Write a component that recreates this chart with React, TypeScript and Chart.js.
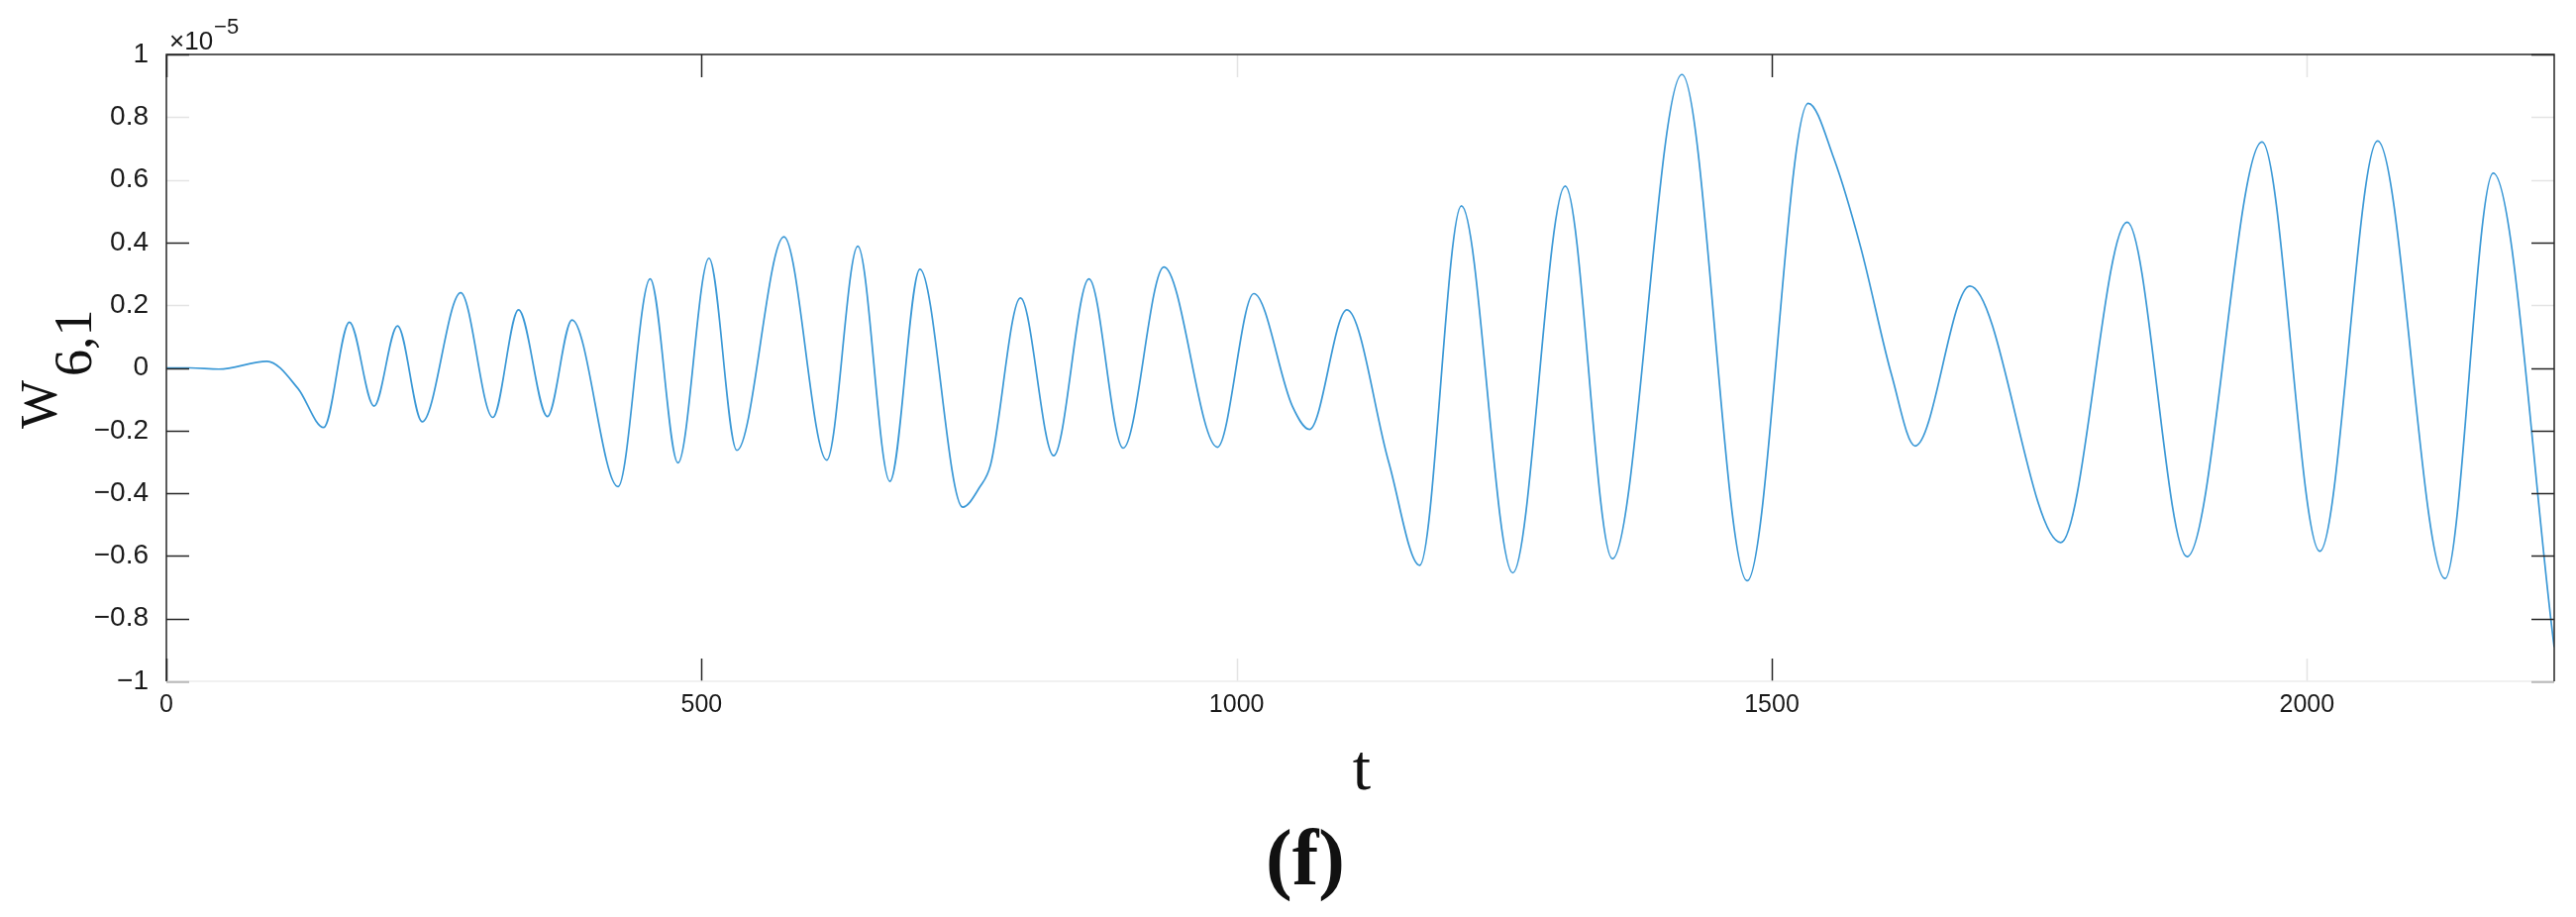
import { useEffect, useRef } from "react";
import { Chart, registerables } from "chart.js";

Chart.register(...registerables);

// time axis values (t)
const tValues = [
  0, 22, 49, 94, 123, 147, 171, 194, 216, 239, 275, 305, 329, 356, 379, 422,
  452, 478, 507, 533, 577, 617, 646, 676, 704, 744, 760, 770, 798,
  829, 862, 894, 932, 982, 1016, 1052, 1068, 1103, 1142, 1171, 1210, 1258,
  1307, 1351, 1416, 1477, 1534, 1558, 1583, 1612, 1634, 1685, 1770, 1832,
  1888, 1958, 2012, 2066, 2129, 2174, 2231,
];

// W_{6,1} values in units of 1e-5
const wValues = [
  0, 0, -0.004, 0.021, -0.066, -0.19, 0.146, -0.122, 0.134, -0.172, 0.24,
  -0.158, 0.185, -0.155, 0.153, -0.379, 0.284, -0.303, 0.35, -0.263,
  0.418, -0.294, 0.388, -0.362, 0.315, -0.444, -0.38, -0.31, 0.223,
  -0.28, 0.284, -0.256, 0.322, -0.253, 0.237, -0.122, -0.196, 0.185, -0.3,
  -0.63, 0.517, -0.654, 0.58, -0.609, 0.936, -0.679, 0.844, 0.668, 0.385,
  -0.024, -0.249, 0.261, -0.557, 0.465, -0.602, 0.721, -0.585, 0.724, -0.672,
  0.621, -0.891,
];

const xTicks = [0, 500, 1000, 1500, 2000];
const yTicks = [-1, -0.8, -0.6, -0.4, -0.2, 0, 0.2, 0.4, 0.6, 0.8, 1];
const xFaintTicks = [1000, 2000];
const yFaintTicks = [0.2, 0.6, 0.8];
const xMin = 0;
const xMax = 2231;
const yMin = -1;
const yMax = 1;

const yTitleMain = "W";
const yTitleSub = "6,1";
const xTitle = "t";
const panelLabel = "(f)";
const exponentBase = "\u00d710";
const exponentPower = "\u22125";

const fmtY = (v: number) => {
  if (Math.abs(v) < 1e-9) return "0";
  const s = Number(Math.abs(v).toFixed(1)).toString();
  return (v < 0 ? "\u2212" : "") + s;
};

const framePlugin = {
  id: "matlabFrame",
  afterDraw(chart: any) {
    const ctx = chart.ctx as CanvasRenderingContext2D;
    const { left, right, top, bottom } = chart.chartArea;
    const xs = chart.scales.x;
    const ys = chart.scales.y;
    const dark = "#262626";
    const faint = "#e4e4e4";
    const tl = 23;
    ctx.save();
    ctx.lineWidth = 1.5;
    // ticks
    for (const v of yTicks) {
      const py = Math.round(ys.getPixelForValue(v)) + 0.5;
      ctx.strokeStyle = yFaintTicks.includes(v) ? faint : dark;
      ctx.beginPath();
      ctx.moveTo(left, py);
      ctx.lineTo(left + tl, py);
      ctx.moveTo(right, py);
      ctx.lineTo(right - tl, py);
      ctx.stroke();
    }
    for (const v of xTicks) {
      const px = Math.round(xs.getPixelForValue(v)) + 0.5;
      ctx.strokeStyle = xFaintTicks.includes(v) ? faint : dark;
      ctx.beginPath();
      ctx.moveTo(px, bottom);
      ctx.lineTo(px, bottom - tl);
      ctx.moveTo(px, top);
      ctx.lineTo(px, top + tl);
      ctx.stroke();
    }
    // box
    ctx.strokeStyle = "#ececec";
    ctx.beginPath();
    ctx.moveTo(left, bottom);
    ctx.lineTo(right, bottom);
    ctx.stroke();
    ctx.strokeStyle = dark;
    ctx.beginPath();
    ctx.moveTo(left, bottom);
    ctx.lineTo(left, top);
    ctx.lineTo(right, top);
    ctx.lineTo(right, bottom);
    ctx.stroke();

    // exponent
    ctx.fillStyle = "#1a1a1a";
    ctx.textAlign = "left";
    ctx.textBaseline = "alphabetic";
    ctx.font = "26px 'Liberation Sans', Arial, sans-serif";
    ctx.fillText(exponentBase, left + 3, top - 5);
    const w = ctx.measureText(exponentBase).width;
    ctx.font = "22px 'Liberation Sans', Arial, sans-serif";
    ctx.fillText(exponentPower, left + 3 + w + 1, top - 21);

    // y title
    ctx.fillStyle = "#111";
    ctx.save();
    ctx.translate(57, 433);
    ctx.rotate(-Math.PI / 2);
    ctx.font = "52px 'Liberation Serif', 'Times New Roman', serif";
    ctx.fillText(yTitleMain, 0, 0);
    const ww = ctx.measureText(yTitleMain).width;
    ctx.font = "54px 'Liberation Serif', 'Times New Roman', serif";
    ctx.fillText(yTitleSub, ww + 4, 35);
    ctx.restore();

    // x title
    ctx.textAlign = "center";
    ctx.font = "66px 'Liberation Serif', 'Times New Roman', serif";
    ctx.fillText(xTitle, 1375, 797);

    // panel label
    ctx.font = "bold 80px 'Liberation Serif', 'Times New Roman', serif";
    ctx.fillText(panelLabel, 1318, 893);
    ctx.restore();
  },
};

export default function App() {
  const ref = useRef<HTMLCanvasElement | null>(null);
  useEffect(() => {
    document.body.style.margin = "0";
    const canvas = ref.current;
    if (!canvas) return;
    const points = tValues.map((t, i) => ({ x: t, y: wValues[i] }));
    const chart = new Chart(canvas, {
      type: "line",
      data: {
        datasets: [
          {
            data: points,
            borderColor: "#3a98d6",
            borderWidth: 1.7,
            pointRadius: 0,
            fill: false,
            cubicInterpolationMode: "monotone",
          },
        ],
      },
      options: {
        animation: false,
        responsive: false,
        devicePixelRatio: 1,
        layout: { padding: { left: 0, top: 55, right: 22, bottom: 0 } },
        plugins: { legend: { display: false }, tooltip: { enabled: false } },
        scales: {
          x: {
            type: "linear",
            min: xMin,
            max: xMax,
            grid: { display: false },
            border: { display: false },
            afterBuildTicks: (s: any) => {
              s.ticks = xTicks.map((v) => ({ value: v }));
            },
            afterFit: (s: any) => {
              s.height = 238;
            },
            ticks: {
              padding: 1,
              color: "#1a1a1a",
              maxRotation: 0,
              autoSkip: false,
              font: { family: "'Liberation Sans', Arial, sans-serif", size: 25 },
              callback: (v: any) => String(v),
            },
          },
          y: {
            type: "linear",
            min: yMin,
            max: yMax,
            grid: { display: false },
            border: { display: false },
            afterBuildTicks: (s: any) => {
              s.ticks = yTicks.map((v) => ({ value: v }));
            },
            afterFit: (s: any) => {
              s.width = 168;
            },
            ticks: {
              padding: 10,
              color: "#1a1a1a",
              autoSkip: false,
              font: { family: "'Liberation Sans', Arial, sans-serif", size: 28 },
              callback: (v: any) => fmtY(Number(v)),
            },
          },
        },
      },
      plugins: [framePlugin],
    } as any);
    return () => chart.destroy();
  }, []);
  return (
    <div style={{ position: "absolute", left: 0, top: 0, width: 2601, height: 926, background: "#fff" }}>
      <canvas ref={ref} width={2601} height={926} style={{ width: 2601, height: 926, display: "block" }} />
    </div>
  );
}
